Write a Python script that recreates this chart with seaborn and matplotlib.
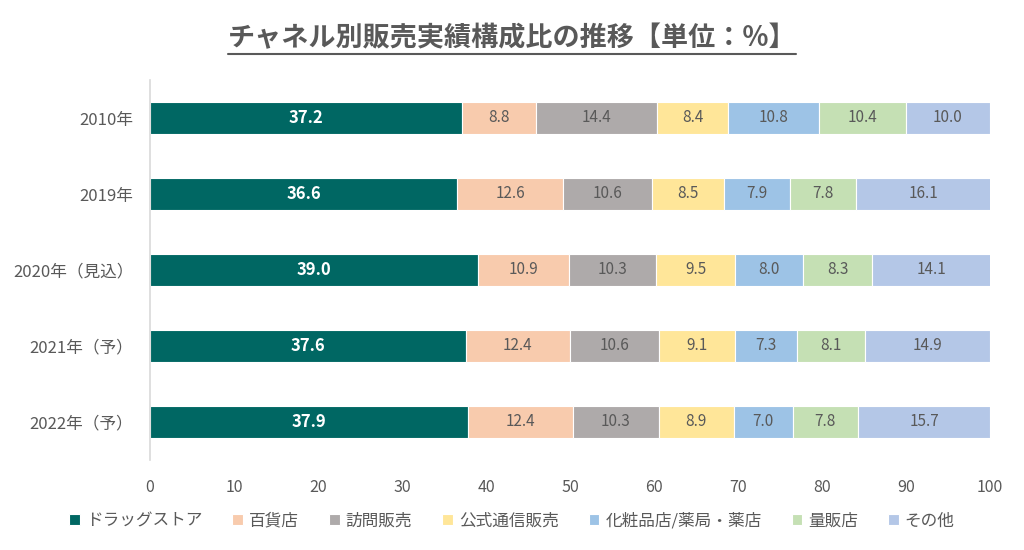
import matplotlib
matplotlib.use("Agg")
import matplotlib.pyplot as plt
import seaborn as sns
import pandas as pd
from matplotlib.lines import Line2D

sns.set_theme(style="white")
plt.rcParams['font.family'] = ['Noto Sans CJK JP', 'DejaVu Sans']

title = "チャネル別販売実績構成比の推移【単位：%】"
years = ["2010年", "2019年", "2020年（見込）", "2021年（予）", "2022年（予）"]
channels = ["ドラッグストア", "百貨店", "訪問販売", "公式通信販売", "化粧品店/薬局・薬店", "量販店", "その他"]
drugstore = [37.2, 36.6, 39.0, 37.6, 37.9]
department = [8.8, 12.6, 10.9, 12.4, 12.4]
door_to_door = [14.4, 10.6, 10.3, 10.6, 10.3]
official_mail = [8.4, 8.5, 9.5, 9.1, 8.9]
cosmetics_pharmacy = [10.8, 7.9, 8.0, 7.3, 7.0]
mass_retail = [10.4, 7.8, 8.3, 8.1, 7.8]
others = [10.0, 16.1, 14.1, 14.9, 15.7]
colors = ["#006763", "#F8CBAD", "#AEAAAA", "#FFE699", "#9DC3E6", "#C5E0B4", "#B4C7E7"]
x_ticks = list(range(0, 101, 10))

series = [drugstore, department, door_to_door, official_mail, cosmetics_pharmacy, mass_retail, others]
text_gray = "#595959"

fig = plt.figure(figsize=(10.24, 5.5), dpi=100)
ax = fig.add_axes([150 / 1024, 90 / 550, 840 / 1024, 380 / 550])

lefts = [0.0] * len(years)
for name, vals, col in zip(channels, series, colors):
    df = pd.DataFrame({"year": years, "value": vals})
    sns.barplot(data=df, x="value", y="year", orient="h", color=col, left=lefts,
                width=0.41, edgecolor="white", linewidth=0.8, saturation=1,
                label=name, ax=ax)
    for i, v in enumerate(vals):
        cx = lefts[i] + v / 2
        if name == channels[0]:
            ax.text(cx, i, f"{v:.1f}", ha="center", va="center", color="white",
                    fontsize=12, fontweight="bold")
        else:
            ax.text(cx, i, f"{v:.1f}", ha="center", va="center", color=text_gray,
                    fontsize=11)
    lefts = [l + v for l, v in zip(lefts, vals)]

if ax.get_legend() is not None:
    ax.get_legend().remove()

ax.set_xlim(0, 100)
ax.set_ylim(4.5, -0.5)
ax.set_xticks(x_ticks)
ax.set_xticklabels([str(t) for t in x_ticks])
ax.set_xlabel("")
ax.set_ylabel("")
ax.tick_params(axis="x", length=0, pad=14, labelsize=11.5, labelcolor=text_gray)
ax.tick_params(axis="y", length=0, pad=12, labelsize=12, labelcolor=text_gray)
for s in ["top", "right", "bottom"]:
    ax.spines[s].set_visible(False)
ax.spines["left"].set_color("#D9D9D9")
ax.spines["left"].set_linewidth(1.2)

handles, labels = ax.get_legend_handles_labels()
leg = fig.legend(handles, labels, loc="center", bbox_to_anchor=(0.5, 29 / 550), ncol=7,
                 frameon=False, fontsize=12, handlelength=0.65, handleheight=0.65,
                 handletextpad=0.35, columnspacing=1.8, labelcolor=text_gray)

t = fig.text(0.5, 1 - 38 / 550, title, ha="center", va="center", fontsize=19.5,
             fontweight="bold", color=text_gray)
fig.canvas.draw()
bb = t.get_window_extent(renderer=fig.canvas.get_renderer())
bbf = bb.transformed(fig.transFigure.inverted())
fig.add_artist(Line2D([bbf.x0, bbf.x1], [bbf.y0 - 0.003, bbf.y0 - 0.003],
                      transform=fig.transFigure, color=text_gray, linewidth=1.5))

fig.savefig("out.png", dpi=100)
